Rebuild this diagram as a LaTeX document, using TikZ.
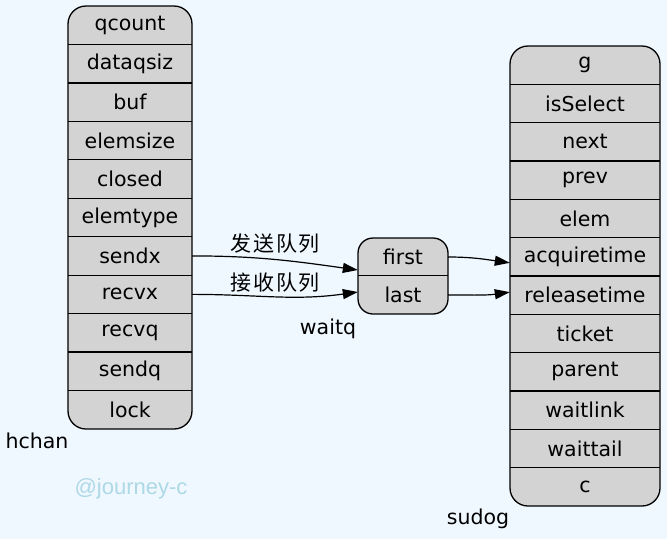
\documentclass[tikz,border=0pt]{standalone}
\usepackage{fontspec}
\setmainfont{DejaVu Sans}
\newfontfamily\cjk[LetterSpace=8]{Noto Sans CJK SC}
\newfontfamily\markfont{Liberation Sans}
\usetikzlibrary{arrows.meta}
\definecolor{bgblue}{HTML}{F0F8FF}
\definecolor{boxgray}{HTML}{D3D3D3}
\definecolor{markblue}{HTML}{ADD8E6}

\begin{document}
\begin{tikzpicture}[x=1pt, y=1pt, >={Triangle[length=15pt, width=10pt]},
    font=\fontsize{20.5}{22}\selectfont,
    record/.style={draw, line width=1.3pt, fill=boxgray, rounded corners=18pt, inner sep=0pt},
    field/.style={inner sep=0pt, minimum height=38pt},
    link/.style={->, line width=1.2pt},
    queuelabel/.style={font=\cjk\fontsize{21}{22}\selectfont, inner sep=0pt}]
    % 背景
    \fill[bgblue] (0, 0) rectangle (667, -539);
    \useasboundingbox (0, 0) rectangle (667, -539);

    % hchan
    \node[record, minimum width=124pt, minimum height=423pt] (hchan) at (130, -217.5) {};
    \foreach \f [count=\i] in {qcount, dataqsiz, buf, elemsize, closed, elemtype, sendx, recvx, recvq, sendq, lock} {
        \node[field, minimum width=124pt] (\f) at (130, {-(6 + 38.45*(\i - 0.5))}) {\f};
        \ifnum\i>1 \draw[line width=1.3pt] (\f.north west) -- (\f.north east); \fi
    }
    \node (hchanname) at (37, -441) {hchan};

    % waitq
    \node[record, rounded corners=15pt, minimum width=90pt, minimum height=76pt] (waitq) at (403, -276) {};
    \foreach \f [count=\i] in {first, last} {
        \node[field, minimum width=90pt] (\f) at (403, {-(238 + 38*(\i - 0.5))}) {\f};
        \ifnum\i>1 \draw[line width=1.3pt] (\f.north west) -- (\f.north east); \fi
    }
    \node (waitqname) at (328, -329) {waitq};

    % sudog
    \node[record, minimum width=150pt, minimum height=460pt] (sudog) at (585, -276) {};
    \foreach \f [count=\i] in {g, isSelect, next, prev, elem, acquiretime, releasetime, ticket, parent, waitlink, waittail, c} {
        \node[field, minimum width=150pt] (\f) at (585, {-(46 + 38.33*(\i - 0.5))}) {\f};
        \ifnum\i>1 \draw[line width=1.3pt] (\f.north west) -- (\f.north east); \fi
    }
    \node (sudogname) at (478, -519) {sudog};

    % 队列指针
    \draw[link] (sendx.east) to[out=0, in=172] node[queuelabel, pos=0.5, above=6pt] {发送队列} ([yshift=-13pt]first.west);
    \draw[link] (recvx.east) to[out=0, in=188] node[queuelabel, pos=0.5, above=4pt] {接收队列} ([yshift=3pt]last.west);
    \draw[link] (first.east) to[out=0, in=172] ([yshift=-6pt]acquiretime.west);
    \draw[link] (last.east) to[out=0, in=188] ([yshift=3pt]releasetime.west);

    \node[markblue, font=\markfont\fontsize{22}{24}\selectfont] (mark) at (131, -489) {@journey-c};
\end{tikzpicture}
\end{document}
